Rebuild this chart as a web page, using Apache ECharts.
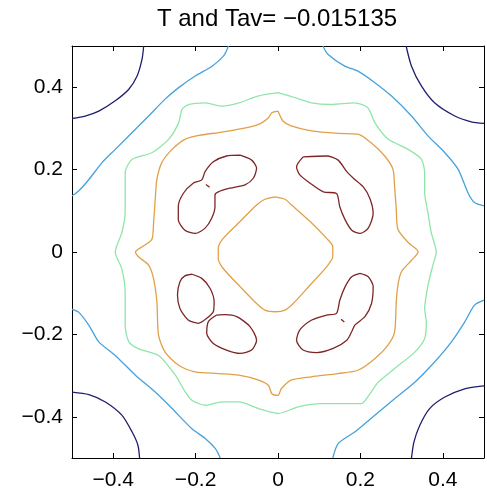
<!DOCTYPE html>
<html>
<head>
<meta charset="utf-8">
<script src="https://cdn.jsdelivr.net/npm/echarts@6/dist/echarts.min.js"></script>
<style>
  html, body { margin: 0; padding: 0; background: #fff; }
  #chart { width: 487px; height: 498px; }
</style>
</head>
<body>
<div id="chart"></div>
<script>
// Axis ticks shared by both axes
const tickValues = [-0.4, -0.2, 0, 0.2, 0.4];
const titleText = 'T and Tav= \u22120.015135';

// Contour level 1 (lowest) - the four corner arcs
const navyTL = [[-0.326,0.5],[-0.330,0.468],[-0.342,0.427],[-0.362,0.395],[-0.395,0.367],[-0.435,0.342],[-0.468,0.330],[-0.5,0.324]];
const navyTR = [[0.311,0.5],[0.324,0.451],[0.348,0.403],[0.380,0.362],[0.429,0.330],[0.469,0.316],[0.5,0.312]];
const navyBL = [[-0.5,-0.340],[-0.459,-0.346],[-0.419,-0.364],[-0.379,-0.396],[-0.354,-0.437],[-0.340,-0.469],[-0.336,-0.5]];
const navyBR = [[0.5,-0.325],[0.453,-0.332],[0.405,-0.352],[0.368,-0.380],[0.344,-0.421],[0.330,-0.461],[0.324,-0.5]];

// Contour level 2 - diagonal bands across each corner
const blueTL = [[-0.120,0.5],[-0.132,0.476],[-0.160,0.451],[-0.201,0.427],[-0.241,0.399],[-0.274,0.371],[-0.314,0.330],[-0.354,0.290],[-0.395,0.249],[-0.427,0.217],[-0.459,0.176],[-0.484,0.148],[-0.5,0.136]];
const blueTR = [[0.109,0.5],[0.121,0.480],[0.162,0.451],[0.194,0.439],[0.235,0.411],[0.275,0.379],[0.324,0.330],[0.364,0.282],[0.405,0.241],[0.437,0.201],[0.461,0.144],[0.477,0.120],[0.5,0.112]];
const blueBL = [[-0.5,-0.139],[-0.484,-0.146],[-0.459,-0.178],[-0.435,-0.218],[-0.395,-0.251],[-0.346,-0.299],[-0.298,-0.340],[-0.257,-0.380],[-0.209,-0.429],[-0.176,-0.453],[-0.152,-0.477],[-0.140,-0.5]];
const blueBR = [[0.5,-0.117],[0.477,-0.129],[0.453,-0.170],[0.421,-0.218],[0.380,-0.267],[0.332,-0.316],[0.283,-0.356],[0.235,-0.396],[0.186,-0.437],[0.146,-0.465],[0.133,-0.5]];

// Contour level 3 - closed ring
const greenRing = [[0,0.387],[0.041,0.375],[0.081,0.362],[0.129,0.358],[0.186,0.362],[0.218,0.350],[0.235,0.314],[0.267,0.274],[0.316,0.249],[0.348,0.225],[0.356,0.192],[0.356,0.144],[0.364,0.095],[0.372,0.047],[0.384,0],
  [0.376,-0.032],[0.364,-0.081],[0.356,-0.138],[0.360,-0.170],[0.356,-0.210],[0.332,-0.243],[0.283,-0.283],[0.243,-0.316],[0.226,-0.340],[0.202,-0.368],[0.162,-0.368],[0.105,-0.368],[0.049,-0.376],[0,-0.392],
  [-0.047,-0.380],[-0.095,-0.364],[-0.136,-0.364],[-0.176,-0.372],[-0.209,-0.360],[-0.225,-0.340],[-0.249,-0.299],[-0.290,-0.251],[-0.338,-0.235],[-0.362,-0.218],[-0.371,-0.178],[-0.371,-0.097],[-0.379,-0.041],[-0.395,0],
  [-0.379,0.047],[-0.371,0.095],[-0.371,0.144],[-0.371,0.192],[-0.354,0.225],[-0.306,0.241],[-0.265,0.274],[-0.241,0.314],[-0.233,0.346],[-0.217,0.358],[-0.176,0.362],[-0.136,0.354],[-0.095,0.362],[-0.047,0.379],[0,0.387]];

// Contour level 4 - outer ring with four cusps, and the central diamond
const orangeRing = [[0,0.342],[0.012,0.318],[0.032,0.306],[0.081,0.294],[0.146,0.288],[0.194,0.286],[0.226,0.265],[0.259,0.233],[0.279,0.201],[0.283,0.160],[0.287,0.104],[0.291,0.055],[0.316,0.023],[0.336,0.007],[0.340,0],
  [0.324,-0.020],[0.299,-0.049],[0.291,-0.081],[0.287,-0.121],[0.283,-0.194],[0.267,-0.226],[0.235,-0.259],[0.194,-0.287],[0.146,-0.295],[0.081,-0.303],[0.032,-0.311],[0.008,-0.332],[0,-0.348],
  [-0.015,-0.344],[-0.023,-0.324],[-0.047,-0.311],[-0.095,-0.299],[-0.144,-0.295],[-0.201,-0.291],[-0.241,-0.275],[-0.274,-0.243],[-0.290,-0.202],[-0.294,-0.121],[-0.302,-0.065],[-0.314,-0.032],[-0.338,-0.012],[-0.346,0],
  [-0.326,0.015],[-0.306,0.031],[-0.302,0.071],[-0.298,0.128],[-0.294,0.176],[-0.282,0.217],[-0.257,0.249],[-0.225,0.274],[-0.192,0.283],[-0.144,0.290],[-0.095,0.298],[-0.047,0.310],[-0.023,0.326],[-0.015,0.338],[0,0.342]];
const orangeDiamond = [[-0.007,0.134],[0.017,0.128],[0.033,0.114],[0.078,0.074],[0.118,0.033],[0.133,0.013],[0.133,-0.011],[0.118,-0.036],[0.078,-0.080],[0.037,-0.125],[0.017,-0.141],[-0.007,-0.145],
  [-0.032,-0.141],[-0.052,-0.125],[-0.092,-0.084],[-0.133,-0.040],[-0.145,-0.015],[-0.145,0.009],[-0.133,0.033],[-0.092,0.074],[-0.052,0.114],[-0.032,0.128],[-0.007,0.134]];

// Contour level 5 (highest) - lobes around the centre
const redTL = [[-0.092,0.235],[-0.064,0.223],[-0.052,0.203],[-0.060,0.179],[-0.080,0.163],[-0.117,0.155],[-0.145,0.146],[-0.153,0.138],[-0.153,0.110],[-0.161,0.082],[-0.177,0.058],[-0.201,0.045],[-0.226,0.053],[-0.242,0.078],[-0.242,0.110],[-0.230,0.142],[-0.206,0.167],[-0.185,0.175],[-0.177,0.195],[-0.157,0.219],[-0.125,0.233],[-0.092,0.235]];
const redTR = [[0.061,0.231],[0.118,0.233],[0.146,0.223],[0.167,0.195],[0.183,0.179],[0.207,0.158],[0.223,0.130],[0.231,0.094],[0.219,0.058],[0.199,0.045],[0.179,0.053],[0.163,0.078],[0.150,0.110],[0.142,0.142],[0.110,0.146],[0.078,0.167],[0.053,0.187],[0.045,0.207],[0.061,0.231]];
const redBLupper = [[-0.209,-0.054],[-0.185,-0.064],[-0.165,-0.088],[-0.155,-0.121],[-0.157,-0.145],[-0.173,-0.161],[-0.193,-0.173],[-0.218,-0.165],[-0.238,-0.137],[-0.244,-0.104],[-0.238,-0.072],[-0.226,-0.058],[-0.209,-0.054]];
const redBLlower = [[-0.149,-0.153],[-0.128,-0.152],[-0.100,-0.157],[-0.068,-0.181],[-0.052,-0.214],[-0.064,-0.238],[-0.092,-0.246],[-0.125,-0.238],[-0.157,-0.222],[-0.173,-0.197],[-0.169,-0.169],[-0.149,-0.153]];
const redBR = [[0.199,-0.052],[0.219,-0.060],[0.231,-0.084],[0.227,-0.125],[0.211,-0.157],[0.187,-0.177],[0.179,-0.193],[0.167,-0.214],[0.134,-0.234],[0.094,-0.244],[0.061,-0.238],[0.045,-0.214],[0.053,-0.189],[0.082,-0.165],[0.118,-0.153],[0.142,-0.149],[0.150,-0.117],[0.163,-0.084],[0.179,-0.060],[0.199,-0.052]];
const redDotTL = [[-0.175,0.164],[-0.166,0.157]];
const redDotBR = [[0.153,-0.163],[0.161,-0.170]];

const levels = [
  { color: '#1e1e6e', lines: [navyTL, navyTR, navyBL, navyBR] },
  { color: '#45a2dc', lines: [blueTL, blueTR, blueBL, blueBR] },
  { color: '#8fe6a9', lines: [greenRing] },
  { color: '#e1a048', lines: [orangeRing, orangeDiamond] },
  { color: '#7c2626', lines: [redTL, redTR, redBLupper, redBLlower, redBR, redDotTL, redDotBR] }
];

const series = [];
levels.forEach(function (lv) {
  lv.lines.forEach(function (pts) {
    series.push({
      type: 'line',
      data: pts,
      showSymbol: false,
      symbol: 'none',
      smooth: 0.25,
      lineStyle: { color: lv.color, width: 1.3 },
      silent: true,
      animation: false
    });
  });
});

const fmt = function (v) {
  if (Math.abs(v) < 1e-9) return '0';
  return String(Math.round(v * 10) / 10).replace('-', '\u2212');
};

const font = 'Liberation Sans, Arial, Helvetica, sans-serif';

function makeAxis(pos, showLabels) {
  return {
    type: 'value',
    position: pos,
    min: -0.5,
    max: 0.5,
    splitLine: { show: false },
    axisLine: { show: true, onZero: false, lineStyle: { color: '#000', width: 1 } },
    axisTick: { show: true, inside: true, length: 5, customValues: tickValues, lineStyle: { color: '#000' } },
    axisLabel: {
      show: showLabels,
      customValues: tickValues,
      formatter: fmt,
      color: '#000',
      fontSize: 21,
      fontFamily: font,
      margin: pos === 'bottom' ? 12 : 9
    }
  };
}

const chart = echarts.init(document.getElementById('chart'), null, { renderer: 'canvas' });
chart.setOption({
  backgroundColor: '#fff',
  animation: false,
  grid: { left: 72, right: 3, top: 46, bottom: 40, containLabel: false },
  xAxis: [makeAxis('bottom', true), makeAxis('top', false)],
  yAxis: [makeAxis('left', true), makeAxis('right', false)],
  graphic: [{
    type: 'text',
    x: 277,
    y: 7,
    style: {
      text: titleText,
      fill: '#000',
      font: '24px ' + font,
      textAlign: 'center',
      textVerticalAlign: 'top'
    }
  }],
  series: series
});
</script>
</body>
</html>
